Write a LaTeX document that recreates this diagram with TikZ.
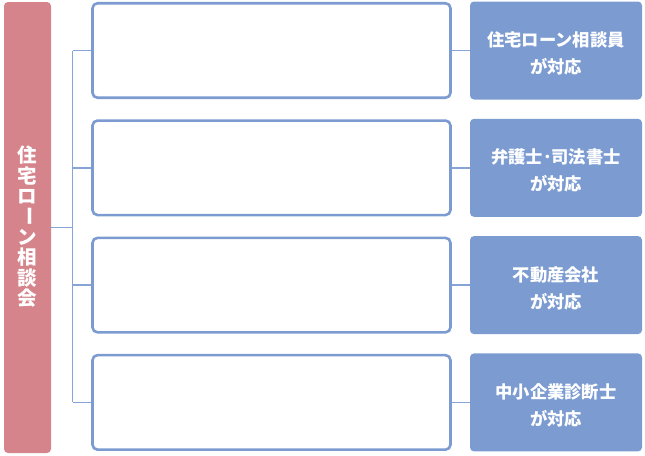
\documentclass[tikz,border=0pt]{standalone}
\usepackage{fontspec}
\setmainfont{Noto Sans CJK JP}
\definecolor{barpink}{HTML}{D5848B}
\definecolor{boxblue}{HTML}{7B9BD1}
\definecolor{linkblue}{HTML}{86A4D6}
\tikzset{
  px/.style={x=1pt,y=-1pt},
  whitebox/.style={draw=boxblue, line width=2.6pt, fill=white, rounded corners=5pt,
    minimum width=358pt, minimum height=94.5pt, inner sep=0pt},
  bluebox/.style={fill=boxblue, rounded corners=4pt, minimum width=172pt, minimum height=98pt,
    inner sep=0pt},
  boxtext/.style={text=white, font=\fontsize{17.3}{27}\selectfont\bfseries, align=center, inner sep=0pt},
  sidebar/.style={fill=barpink, rounded corners=4pt, minimum width=47pt, minimum height=451pt,
    inner sep=0pt},
  bartext/.style={text=white, font=\fontsize{19.5}{20}\selectfont\bfseries, inner sep=0pt},
  link/.style={draw=linkblue, line width=1.7pt},
}
\begin{document}
\begin{tikzpicture}[px]
\useasboundingbox (0,0) rectangle (645,455);
\node[sidebar] (bar) at (27.5,227.5) {};
\foreach \c [count=\k from 0] in {住,宅,ロ,\rotatebox[origin=c]{-90}{ー},ン,相,談,会}{
  \node[bartext] (bc\k) at (27.5,{155.5+20.4*\k}) {\c};
}
\coordinate (junc) at (72.5,227.5);
\foreach \i/\y/\t in {1/50.5/住宅ローン相談員, 2/167.8/弁護士･司法書士, 3/285.1/不動産会社, 4/402.4/中小企業診断士}{
  \node[whitebox] (w\i) at (271.5,\y) {};
  \node[bluebox] (b\i) at (556,\y) {};
  \node[boxtext] (t\i) at ([yshift=-3pt]b\i.center) {\t\\が対応};
  \draw[link] (w\i.east) -- (b\i.west);
  \draw[link] (junc |- w\i.west) -- (w\i.west);
}
\draw[link] (junc |- w1.west) -- (junc |- w4.west);
\draw[link] (bar.east) -- (junc);
\end{tikzpicture}
\end{document}
